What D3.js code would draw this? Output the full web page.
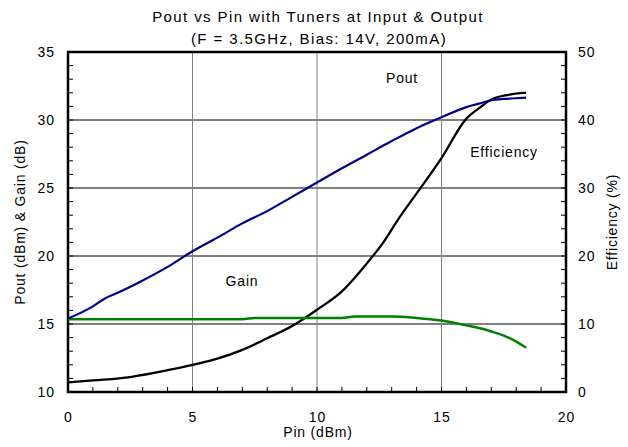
<!DOCTYPE html>
<html><head><meta charset="utf-8">
<script src="https://cdn.jsdelivr.net/npm/d3@7"></script>
<style>body{margin:0;background:#fff}svg{display:block}text{font-family:"Liberation Sans",Arial,sans-serif;fill:#000}</style>
</head><body><svg id="c" width="628" height="447"></svg>
<script>
const pinPout = [0,1,1.5,2,3,4,5,6,7,8,9,10,11,12,13,14,15,16,16.5,17,17.5,18,18.4];
const pout    = [15.4,16.3,16.9,17.3,18.2,19.2,20.35,21.35,22.4,23.3,24.35,25.4,26.45,27.45,28.45,29.4,30.2,30.95,31.2,31.45,31.55,31.6,31.65];
const pinGain = [0,2,4,6,7,7.5,9,11,11.5,13,14,15,16,16.5,17,17.5,18,18.4];
const gain    = [15.35,15.35,15.35,15.35,15.35,15.45,15.45,15.45,15.55,15.55,15.45,15.25,14.9,14.7,14.45,14.15,13.7,13.25];
const pinEff  = [0,1,2.5,4,5,6,7,8,9,10,11,12,12.7,13.3,14,15,16,16.5,17,17.7,18.3,18.4];
const eff     = [1.4,1.7,2.2,3.2,4.0,4.9,6.2,7.9,9.7,12.1,14.8,18.9,22.2,25.6,29.2,34.4,40.2,41.7,43.0,43.7,44.0,44.0];
const xTicks = [0,5,10,15,20];
const yTicks = [10,15,20,25,30,35];
const y2Ticks = [0,10,20,30,40,50];

const svg = d3.select("#c");
const L=68,R=566,T=52,B=392;
const x = d3.scaleLinear().domain([0,20]).range([L,R]);
const y = d3.scaleLinear().domain([10,35]).range([B,T]);
const y2 = d3.scaleLinear().domain([0,50]).range([B,T]);

// grid
svg.append("g").selectAll("line").data([15,20,25,30]).join("line")
  .attr("x1",L).attr("x2",R).attr("y1",d=>y(d)).attr("y2",d=>y(d)).attr("stroke","#000").attr("stroke-width",1);
svg.append("g").selectAll("line").data([5,10,15]).join("line")
  .attr("y1",T).attr("y2",B).attr("x1",d=>x(d)).attr("x2",d=>x(d)).attr("stroke","#808080").attr("stroke-width",1);

// minor ticks
svg.append("g").selectAll("line").data(d3.range(11,35)).join("line")
  .attr("x1",L).attr("x2",L+5).attr("y1",d=>y(d)).attr("y2",d=>y(d)).attr("stroke","#000");
svg.append("g").selectAll("line").data(d3.range(2,50,2)).join("line")
  .attr("x1",R-5).attr("x2",R).attr("y1",d=>y2(d)).attr("y2",d=>y2(d)).attr("stroke","#000");
svg.append("g").selectAll("line").data(d3.range(1,20)).join("line")
  .attr("x1",d=>x(d)).attr("x2",d=>x(d)).attr("y1",B-5).attr("y2",B).attr("stroke","#000");

// frame
svg.append("rect").attr("x",L).attr("y",T).attr("width",R-L).attr("height",B-T)
  .attr("fill","none").attr("stroke","#000").attr("stroke-width",2.5);

// lines
const ln = (xs,ys,sc)=>d3.line().x((d,i)=>x(xs[i])).y((d,i)=>sc(ys[i])).curve(d3.curveMonotoneX)(xs);
svg.append("path").attr("d",ln(pinEff,eff,y2)).attr("fill","none").attr("stroke","#000").attr("stroke-width",2.3);
svg.append("path").attr("d",ln(pinGain,gain,y)).attr("fill","none").attr("stroke","#008000").attr("stroke-width",2.5);
svg.append("path").attr("d",ln(pinPout,pout,y)).attr("fill","none").attr("stroke","#00008b").attr("stroke-width",2.2);

// tick labels
svg.append("g").selectAll("text").data(yTicks).join("text")
  .attr("x",55).attr("y",d=>y(d)+5).attr("text-anchor","end").attr("font-size",14).attr("letter-spacing",1).text(d=>d);
svg.append("g").selectAll("text").data(y2Ticks).join("text")
  .attr("x",578).attr("y",d=>y2(d)+5).attr("text-anchor","start").attr("font-size",14).attr("letter-spacing",1).text(d=>d);
svg.append("g").selectAll("text").data(xTicks).join("text")
  .attr("x",d=>x(d)+0.5).attr("y",422).attr("text-anchor","middle").attr("font-size",14).attr("letter-spacing",1).text(d=>d);

// titles
svg.append("text").attr("x",318).attr("y",22).attr("text-anchor","middle").attr("font-size",15).attr("letter-spacing",1.4).text("Pout vs Pin with Tuners at Input & Output");
svg.append("text").attr("x",319).attr("y",44).attr("text-anchor","middle").attr("font-size",15).attr("letter-spacing",1.4).text("(F = 3.5GHz, Bias: 14V, 200mA)");
svg.append("text").attr("x",318).attr("y",437).attr("text-anchor","middle").attr("font-size",14).attr("letter-spacing",0.8).text("Pin (dBm)");
svg.append("text").attr("transform","translate(25,222) rotate(-90)").attr("text-anchor","middle").attr("font-size",14).attr("letter-spacing",0.8).text("Pout (dBm) & Gain (dB)");
svg.append("text").attr("transform","translate(617,222) rotate(-90)").attr("text-anchor","middle").attr("font-size",14).attr("letter-spacing",0.8).text("Efficiency (%)");

// labels
svg.append("text").attr("x",402).attr("y",83).attr("text-anchor","middle").attr("font-size",14).attr("letter-spacing",0.8).text("Pout");
svg.append("text").attr("x",504).attr("y",157).attr("text-anchor","middle").attr("font-size",14).attr("letter-spacing",0.8).text("Efficiency");
svg.append("text").attr("x",242).attr("y",286).attr("text-anchor","middle").attr("font-size",14).attr("letter-spacing",0.8).text("Gain");
</script></body></html>
